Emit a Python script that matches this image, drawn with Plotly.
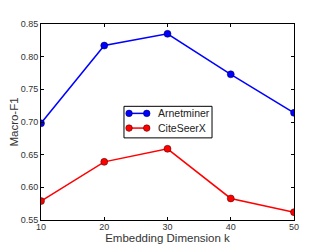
import plotly.graph_objects as go

dims = [10, 20, 30, 40, 50]
arnetminer = [0.698, 0.817, 0.835, 0.773, 0.714]
citeseerx = [0.579, 0.639, 0.659, 0.583, 0.562]
y_ticks = [0.55, 0.60, 0.65, 0.70, 0.75, 0.80, 0.85]
y_tick_labels = ["0.55", "0.60", "0.65", "0.70", "0.75", "0.80", "0.85"]
series_names = ["Arnetminer", "CiteSeerX"]
series_colors = ["#0000ff", "#ff0000"]
edge_colors = ["#000033", "#330000"]

FONT = "Liberation Sans, Arial, sans-serif"

fig = go.Figure()
for name, vals, col, edge in zip(series_names, [arnetminer, citeseerx], series_colors, edge_colors):
    fig.add_trace(go.Scatter(x=dims, y=vals, mode="lines+markers", name=name,
                             line=dict(color=col, width=1.5),
                             marker=dict(color=col, size=7, line=dict(color=edge, width=0.5)),
                             showlegend=False))

# matplotlib-style legend box (drawn in paper coordinates)
lx0, lx1, ly0, ly1 = 0.328, 0.676, 0.419, 0.580
row_y = [0.544, 0.469]
seg_x0, seg_x1, text_x = 0.348, 0.418, 0.455
shapes = [dict(type="rect", xref="paper", yref="paper", x0=lx0, x1=lx1, y0=ly0, y1=ly1,
               line=dict(color="black", width=1), fillcolor="white", layer="above")]
annotations = []
for name, col, edge, ry in zip(series_names, series_colors, edge_colors, row_y):
    shapes.append(dict(type="line", xref="paper", yref="paper", x0=seg_x0, x1=seg_x1, y0=ry, y1=ry,
                       line=dict(color=col, width=1.5), layer="above"))
    for mx in (seg_x0, seg_x1):
        shapes.append(dict(type="circle", xref="paper", yref="paper",
                           xsizemode="pixel", ysizemode="pixel", xanchor=mx, yanchor=ry,
                           x0=-3.3, x1=3.3, y0=-3.3, y1=3.3,
                           fillcolor=col, line=dict(color=edge, width=0.5), layer="above"))
    annotations.append(dict(xref="paper", yref="paper", x=text_x, y=ry, text=name,
                            showarrow=False, xanchor="left", yanchor="middle",
                            font=dict(family=FONT, size=10.5, color="#222222")))

axis_common = dict(showline=True, linecolor="black", linewidth=1, mirror="ticks",
                   ticks="inside", ticklen=3, tickcolor="black", showgrid=False, zeroline=False,
                   automargin=False,
                   tickfont=dict(family=FONT, size=9, color="#333333"))

# the page body has an 8px margin, so the figure is sized/offset to compensate
fig.update_layout(
    width=319, height=237,
    margin=dict(l=33, r=33, t=16, b=25),
    paper_bgcolor="white", plot_bgcolor="white",
    font=dict(family=FONT, color="#333333"),
    xaxis=dict(range=[10, 50], tickvals=dims, ticktext=[str(d) for d in dims],
               title=dict(text="Embedding Dimension k", font=dict(size=11.5), standoff=0),
               ticklabelstandoff=-2,
               **axis_common),
    yaxis=dict(range=[0.55, 0.85], tickvals=y_ticks, ticktext=y_tick_labels,
               title=dict(text="Macro-F1", font=dict(size=11.5), standoff=5),
               ticklabelstandoff=0,
               **axis_common),
    shapes=shapes,
    annotations=annotations,
    showlegend=False,
)

fig.write_html("out.html")
